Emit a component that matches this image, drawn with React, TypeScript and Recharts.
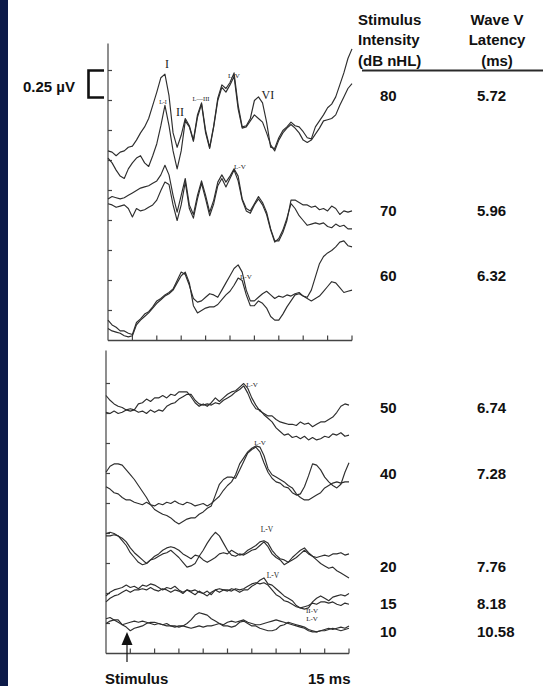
import React from 'react';
import { LineChart, Line, XAxis, YAxis, ReferenceLine, ReferenceDot } from 'recharts';

// Sampling grid shared by every averaged ABR trace (ms after stimulus onset)
const TIME_MS = [
  0, 0.25, 0.5, 0.75, 1, 1.25, 1.5, 1.75, 2, 2.25, 2.5, 2.75, 3, 3.25, 3.5, 3.75,
  4, 4.25, 4.5, 4.75, 5, 5.25, 5.5, 5.75, 6, 6.25, 6.5, 6.75, 7, 7.25, 7.5, 7.75,
  8, 8.25, 8.5, 8.75, 9, 9.25, 9.5, 9.75, 10, 10.25, 10.5, 10.75, 11, 11.25, 11.5, 11.75,
  12, 12.25, 12.5, 12.75, 13, 13.25, 13.5, 13.75, 14, 14.25, 14.5, 14.75, 15,
];

// Upper panel traces (µV, stacked above the panel floor), two replications per level
const WAVE_80_A = [1.58,1.57,1.54,1.57,1.58,1.61,1.62,1.67,1.73,1.78,1.85,1.96,2.07,2.19,2.22,2.04,1.73,1.61,1.71,1.85,1.79,1.67,1.88,1.98,1.75,1.61,1.79,2.02,2.13,2.10,2.15,2.23,1.96,1.78,1.79,1.85,2.00,2.03,1.98,1.82,1.61,1.60,1.69,1.75,1.78,1.82,1.79,1.78,1.74,1.69,1.68,1.78,1.83,1.88,1.94,1.97,2.03,2.13,2.23,2.35,2.43];
const WAVE_80_B = [1.52,1.48,1.42,1.37,1.35,1.43,1.48,1.52,1.54,1.48,1.45,1.54,1.64,1.79,1.96,1.79,1.58,1.43,1.58,1.83,1.78,1.66,1.86,1.97,1.73,1.60,1.78,2.00,2.11,2.07,2.13,2.20,1.93,1.77,1.78,1.83,1.88,1.85,1.82,1.73,1.63,1.58,1.67,1.73,1.77,1.80,1.77,1.73,1.67,1.65,1.67,1.72,1.77,1.83,1.84,1.85,1.88,1.96,2.03,2.10,2.14];
const WAVE_70_A = [1.18,1.20,1.19,1.18,1.19,1.21,1.23,1.25,1.27,1.28,1.29,1.31,1.33,1.38,1.46,1.38,1.21,1.07,1.21,1.35,1.13,1.05,1.21,1.33,1.21,1.07,1.17,1.32,1.38,1.32,1.37,1.43,1.37,1.18,1.10,1.08,1.14,1.20,1.15,1.07,0.93,0.83,0.83,0.90,1.00,1.17,1.17,1.15,1.13,1.13,1.11,1.12,1.09,1.10,1.08,1.12,1.10,1.05,1.08,1.07,1.08];
const WAVE_70_B = [1.14,1.13,1.11,1.12,1.13,1.10,1.03,1.10,1.08,1.09,1.11,1.13,1.17,1.25,1.32,1.30,1.13,1.00,1.13,1.32,1.10,1.02,1.18,1.31,1.18,1.04,1.14,1.29,1.35,1.28,1.35,1.42,1.33,1.17,1.08,1.06,1.13,1.18,1.13,1.05,0.92,0.82,0.85,0.92,1.02,1.14,1.10,1.04,1.00,0.96,0.97,0.98,0.97,0.98,0.95,0.94,0.97,0.95,0.96,0.93,0.93];
const WAVE_60_A = [0.17,0.13,0.11,0.08,0.08,0.06,0.05,0.15,0.18,0.22,0.24,0.28,0.33,0.35,0.38,0.40,0.43,0.50,0.57,0.55,0.46,0.35,0.32,0.33,0.36,0.39,0.38,0.36,0.42,0.48,0.54,0.60,0.63,0.57,0.42,0.33,0.33,0.36,0.39,0.41,0.38,0.35,0.37,0.36,0.38,0.37,0.39,0.40,0.37,0.35,0.33,0.35,0.37,0.41,0.45,0.49,0.48,0.44,0.40,0.41,0.42];
const WAVE_60_B = [0.10,0.08,0.07,0.06,0.04,0.03,0.04,0.13,0.17,0.20,0.23,0.27,0.31,0.34,0.37,0.39,0.42,0.48,0.54,0.57,0.48,0.29,0.23,0.25,0.27,0.28,0.28,0.30,0.34,0.38,0.41,0.46,0.52,0.50,0.38,0.29,0.29,0.33,0.31,0.27,0.20,0.17,0.17,0.22,0.28,0.33,0.38,0.39,0.37,0.36,0.42,0.53,0.64,0.70,0.73,0.75,0.78,0.82,0.83,0.79,0.78];

// Lower panel traces (µV above the panel floor)
const WAVE_50_A = [2.15,2.11,2.08,2.06,2.05,2.03,2.04,2.03,2.08,2.09,2.12,2.10,2.13,2.13,2.15,2.13,2.16,2.15,2.18,2.18,2.18,2.14,2.09,2.06,2.08,2.06,2.09,2.13,2.10,2.13,2.16,2.18,2.19,2.22,2.25,2.21,2.13,2.07,2.02,2.00,1.98,1.98,1.95,1.93,1.92,1.91,1.91,1.90,1.93,1.91,1.92,1.89,1.91,1.93,1.93,1.95,1.97,2.01,2.06,2.08,2.07];
const WAVE_50_B = [2.01,2.00,2.02,2.00,2.01,2.03,2.02,2.03,2.01,2.02,2.00,2.03,2.01,2.03,2.02,2.06,2.08,2.09,2.12,2.14,2.16,2.16,2.11,2.08,2.07,2.08,2.07,2.09,2.08,2.11,2.13,2.15,2.18,2.20,2.23,2.17,2.09,2.04,2.03,1.99,1.96,1.93,1.88,1.85,1.82,1.83,1.80,1.81,1.79,1.81,1.78,1.80,1.78,1.79,1.81,1.80,1.83,1.82,1.84,1.81,1.82];
const WAVE_40_A = [1.51,1.56,1.58,1.58,1.57,1.53,1.49,1.45,1.40,1.35,1.30,1.24,1.20,1.18,1.16,1.15,1.13,1.10,1.08,1.10,1.12,1.13,1.13,1.16,1.18,1.21,1.23,1.32,1.41,1.45,1.47,1.47,1.46,1.53,1.60,1.67,1.70,1.72,1.68,1.59,1.51,1.46,1.43,1.42,1.39,1.38,1.34,1.32,1.33,1.39,1.48,1.58,1.57,1.53,1.47,1.43,1.40,1.38,1.41,1.51,1.59];
const WAVE_40_B = [1.39,1.37,1.34,1.33,1.30,1.28,1.28,1.26,1.25,1.24,1.26,1.24,1.23,1.25,1.24,1.26,1.25,1.27,1.25,1.24,1.26,1.25,1.23,1.24,1.25,1.23,1.25,1.28,1.31,1.36,1.40,1.43,1.49,1.58,1.63,1.68,1.71,1.73,1.72,1.65,1.54,1.49,1.47,1.45,1.43,1.40,1.38,1.33,1.30,1.28,1.28,1.30,1.32,1.34,1.38,1.40,1.42,1.43,1.42,1.43,1.43];
const WAVE_20_A = [1.00,1.01,1.00,0.98,0.96,0.93,0.88,0.84,0.81,0.78,0.75,0.78,0.79,0.81,0.83,0.84,0.86,0.83,0.80,0.76,0.72,0.73,0.75,0.81,0.86,0.92,0.97,1.01,0.98,0.92,0.86,0.82,0.81,0.83,0.82,0.84,0.86,0.87,0.90,0.93,0.89,0.83,0.80,0.78,0.74,0.76,0.80,0.83,0.86,0.88,0.84,0.81,0.78,0.75,0.73,0.71,0.72,0.69,0.67,0.65,0.63];
const WAVE_20_B = [0.98,0.98,0.99,0.98,0.94,0.90,0.84,0.80,0.76,0.74,0.75,0.78,0.81,0.83,0.86,0.88,0.89,0.88,0.86,0.83,0.81,0.79,0.82,0.81,0.78,0.76,0.78,0.80,0.83,0.84,0.83,0.86,0.84,0.82,0.83,0.86,0.88,0.90,0.93,0.94,0.92,0.86,0.82,0.79,0.78,0.76,0.78,0.80,0.83,0.86,0.83,0.81,0.80,0.81,0.82,0.81,0.83,0.83,0.84,0.82,0.83];
const WAVE_15_A = [0.48,0.51,0.53,0.54,0.55,0.57,0.55,0.56,0.54,0.57,0.56,0.58,0.57,0.55,0.53,0.55,0.54,0.56,0.53,0.51,0.53,0.52,0.53,0.51,0.50,0.52,0.49,0.53,0.54,0.53,0.52,0.54,0.53,0.51,0.53,0.53,0.56,0.58,0.61,0.63,0.58,0.57,0.54,0.51,0.48,0.46,0.44,0.40,0.38,0.37,0.38,0.43,0.46,0.48,0.46,0.44,0.47,0.48,0.49,0.48,0.50];
const WAVE_15_B = [0.43,0.46,0.48,0.49,0.51,0.53,0.51,0.53,0.53,0.54,0.53,0.55,0.53,0.52,0.54,0.53,0.51,0.53,0.52,0.50,0.53,0.51,0.49,0.52,0.50,0.48,0.51,0.53,0.51,0.53,0.53,0.52,0.54,0.53,0.54,0.56,0.58,0.59,0.58,0.59,0.57,0.53,0.49,0.47,0.44,0.43,0.41,0.39,0.38,0.39,0.40,0.42,0.41,0.43,0.43,0.42,0.43,0.41,0.40,0.42,0.41];
const WAVE_10_A = [0.29,0.30,0.28,0.28,0.24,0.22,0.19,0.21,0.22,0.23,0.25,0.26,0.26,0.25,0.24,0.25,0.23,0.23,0.22,0.23,0.25,0.28,0.32,0.34,0.33,0.32,0.29,0.27,0.25,0.23,0.23,0.22,0.23,0.26,0.27,0.25,0.23,0.23,0.21,0.20,0.19,0.19,0.20,0.23,0.24,0.26,0.25,0.24,0.23,0.22,0.20,0.19,0.18,0.19,0.20,0.21,0.20,0.21,0.22,0.21,0.23];
const WAVE_10_B = [0.25,0.27,0.28,0.26,0.24,0.25,0.26,0.27,0.26,0.27,0.26,0.25,0.24,0.25,0.24,0.23,0.23,0.22,0.23,0.23,0.22,0.21,0.22,0.23,0.22,0.23,0.23,0.24,0.25,0.24,0.26,0.27,0.26,0.27,0.28,0.26,0.25,0.24,0.24,0.25,0.26,0.27,0.28,0.27,0.26,0.25,0.24,0.23,0.22,0.21,0.19,0.18,0.18,0.19,0.19,0.20,0.21,0.20,0.19,0.20,0.21];

// Table on the right
const INTENSITY_DB = ['80', '70', '60', '50', '40', '20', '15', '10'];
const WAVE_V_LATENCY_MS = ['5.72', '5.96', '6.32', '6.74', '7.28', '7.76', '8.18', '10.58'];

// Axis ticks
const TIME_TICKS = [1.5, 3, 4.5, 6, 7.5, 9, 10.5, 12, 13.5, 15];
const AMP_TICKS = [0.25, 0.5, 0.75, 1, 1.25, 1.5, 1.75, 2, 2.25];

// Wave labels (ms, µV)
const TOP_LABELS = [
  { t: 3.63, v: 2.27, text: 'I', size: 12 },
  { t: 3.38, v: 1.97, text: 'L-I', size: 6 },
  { t: 4.42, v: 1.87, text: 'II', size: 12 },
  { t: 5.72, v: 2.0, text: 'L—III', size: 6.5 },
  { t: 7.74, v: 2.19, text: 'L-V', size: 7 },
  { t: 9.83, v: 2.01, text: 'VI', size: 12 },
  { t: 8.11, v: 1.43, text: 'L-V', size: 7 },
  { t: 8.48, v: 0.51, text: 'L-V', size: 7 },
];
const BOTTOM_LABELS = [
  { t: 9.01, v: 2.22, text: 'L-V', size: 7 },
  { t: 9.51, v: 1.74, text: 'L-V', size: 7 },
  { t: 9.94, v: 1.01, text: 'L-V', size: 7.5 },
  { t: 10.31, v: 0.63, text: 'L-V', size: 7.5 },
  { t: 12.72, v: 0.34, text: 'II-V', size: 7 },
  { t: 12.72, v: 0.27, text: 'L-V', size: 7 },
];

const TOP_SERIES: Record<string, number[]> = {
  w80a: WAVE_80_A, w80b: WAVE_80_B, w70a: WAVE_70_A, w70b: WAVE_70_B, w60a: WAVE_60_A, w60b: WAVE_60_B,
};
const BOTTOM_SERIES: Record<string, number[]> = {
  w50a: WAVE_50_A, w50b: WAVE_50_B, w40a: WAVE_40_A, w40b: WAVE_40_B, w20a: WAVE_20_A,
  w20b: WAVE_20_B, w15a: WAVE_15_A, w15b: WAVE_15_B, w10a: WAVE_10_A, w10b: WAVE_10_B,
};

const buildRows = (series: Record<string, number[]>) =>
  TIME_MS.map((t, i) => {
    const row: Record<string, number> = { t };
    Object.keys(series).forEach((k) => { row[k] = series[k][i]; });
    return row;
  });

const TOP_ROWS = buildRows(TOP_SERIES);
const BOTTOM_ROWS = buildRows(BOTTOM_SERIES);

const TRACE = '#2e2e2e';
const AXIS = '#444';
const SANS = "'Liberation Sans', Arial, Helvetica, sans-serif";
const SERIF = "'Liberation Serif', 'Times New Roman', serif";

// Amplitude scale: 120 px per µV, time scale: ~16.2 px per ms
const TICK_UP_UV = 5 / 120;
const TICK_RIGHT_MS = 4 / 16.2;

// Time axis (0 µV baseline) and its inward tick marks, drawn as series on the same scales
const TIME_AXIS_ROWS = [{ t: 0, v: 0 }, { t: 15, v: 0 }];
const TIME_TICK_ROWS = TIME_TICKS.flatMap((t) => [
  { t, v: 0 },
  { t, v: TICK_UP_UV },
  { t, v: null as number | null },
]);

const ROW_BASELINES = [101, 216, 281, 413, 479, 572, 609, 637];

const labelShape = (text: string, size: number) => (p: any) => (
  <text x={p.cx} y={p.cy} textAnchor="middle" fontFamily={SERIF} fontSize={size} fill="#222">
    {text}
  </text>
);

function Panel({
  rows, series, labels, width, height, margin, ampMax, axisTop,
}: {
  rows: Record<string, number>[];
  series: Record<string, number[]>;
  labels: { t: number; v: number; text: string; size: number }[];
  width: number;
  height: number;
  margin: { top: number; right: number; bottom: number; left: number };
  ampMax: number;
  axisTop: number;
}) {
  return (
    <LineChart width={width} height={height} data={rows} margin={margin}>
      <XAxis dataKey="t" type="number" domain={[0, 15]} hide />
      <YAxis type="number" domain={[0, ampMax]} hide />

      {/* amplitude axis with inward ticks */}
      <ReferenceLine segment={[{ x: 0, y: 0 }, { x: 0, y: axisTop }]} stroke={AXIS} strokeWidth={1.2} ifOverflow="visible" />
      {AMP_TICKS.map((v) => (
        <ReferenceLine
          key={`yt-${v}`}
          segment={[{ x: 0, y: v }, { x: TICK_RIGHT_MS, y: v }]}
          stroke={AXIS}
          strokeWidth={1.2}
          ifOverflow="visible"
        />
      ))}

      {/* time axis with inward ticks */}
      <Line
        data={TIME_AXIS_ROWS}
        dataKey="v"
        type="linear"
        stroke={AXIS}
        strokeWidth={1.6}
        dot={false}
        activeDot={false}
        isAnimationActive={false}
      />
      <Line
        data={TIME_TICK_ROWS}
        dataKey="v"
        type="linear"
        stroke={AXIS}
        strokeWidth={1.2}
        dot={false}
        activeDot={false}
        connectNulls={false}
        isAnimationActive={false}
      />

      {Object.keys(series).map((k) => (
        <Line
          key={k}
          dataKey={k}
          type="linear"
          stroke={TRACE}
          strokeWidth={1.15}
          strokeLinejoin="round"
          dot={false}
          activeDot={false}
          isAnimationActive={false}
        />
      ))}
      {labels.map((m, i) => (
        <ReferenceDot
          key={`lab-${i}`}
          x={m.t}
          y={m.v}
          r={0}
          ifOverflow="visible"
          shape={labelShape(m.text, m.size)}
        />
      ))}
    </LineChart>
  );
}

export default function App() {
  return (
    <div style={{ position: 'absolute', left: 0, top: 0, width: 543, height: 686, background: '#fff', overflow: 'hidden' }}>
      <div style={{ position: 'absolute', left: 0, top: 0, width: 8, height: 686, background: '#0c1a48' }} />

      <div style={{ position: 'absolute', left: 0, top: 0 }}>
        <Panel
          rows={TOP_ROWS}
          series={TOP_SERIES}
          labels={TOP_LABELS}
          width={543}
          height={345}
          margin={{ top: 30.5, right: 191, bottom: 4.5, left: 108 }}
          ampMax={310 / 120}
          axisTop={297 / 120}
        />
      </div>

      <div style={{ position: 'absolute', left: 0, top: 345 }}>
        <Panel
          rows={BOTTOM_ROWS}
          series={BOTTOM_SERIES}
          labels={BOTTOM_LABELS}
          width={543}
          height={341}
          margin={{ top: 5.5, right: 194, bottom: 32.5, left: 106 }}
          ampMax={303 / 120}
          axisTop={303 / 120}
        />
      </div>

      <svg width={543} height={686} style={{ position: 'absolute', left: 0, top: 0, pointerEvents: 'none' }}>
        {/* amplitude calibration bar */}
        <text x={23} y={92} fontFamily={SANS} fontWeight="bold" fontSize={15} fill="#111">0.25 µV</text>
        <path d="M104 70.5 H88.5 V97.5 H104" fill="none" stroke="#111" strokeWidth={2.6} />

        {/* table header */}
        <g fontFamily={SANS} fontWeight="bold" fontSize={15} fill="#111">
          <text x={358} y={25}>Stimulus</text>
          <text x={358} y={45}>Intensity</text>
          <text x={358} y={66}>(dB nHL)</text>
          <text x={497} y={25} textAnchor="middle">Wave V</text>
          <text x={497} y={45} textAnchor="middle">Latency</text>
          <text x={497} y={66} textAnchor="middle">(ms)</text>
        </g>
        <line x1={362} y1={70.5} x2={543} y2={70.5} stroke="#2a2a2a" strokeWidth={2} />

        <g fontFamily={SANS} fontWeight="bold" fontSize={15} fill="#111">
          {INTENSITY_DB.map((db, i) => (
            <text key={`db-${db}`} x={380} y={ROW_BASELINES[i]}>{db}</text>
          ))}
          {WAVE_V_LATENCY_MS.map((lat, i) => (
            <text key={`lat-${i}`} x={477} y={ROW_BASELINES[i]}>{lat}</text>
          ))}
        </g>

        {/* stimulus onset marker */}
        <line x1={127} y1={644} x2={127} y2={662} stroke="#111" strokeWidth={1.2} />
        <polygon points="127,632 121.5,645 132.5,645" fill="#111" />
        <text x={105} y={684} fontFamily={SANS} fontWeight="bold" fontSize={15} fill="#111">Stimulus</text>
        <text x={308} y={684} fontFamily={SANS} fontWeight="bold" fontSize={15} fill="#111">15 ms</text>
      </svg>
    </div>
  );
}
